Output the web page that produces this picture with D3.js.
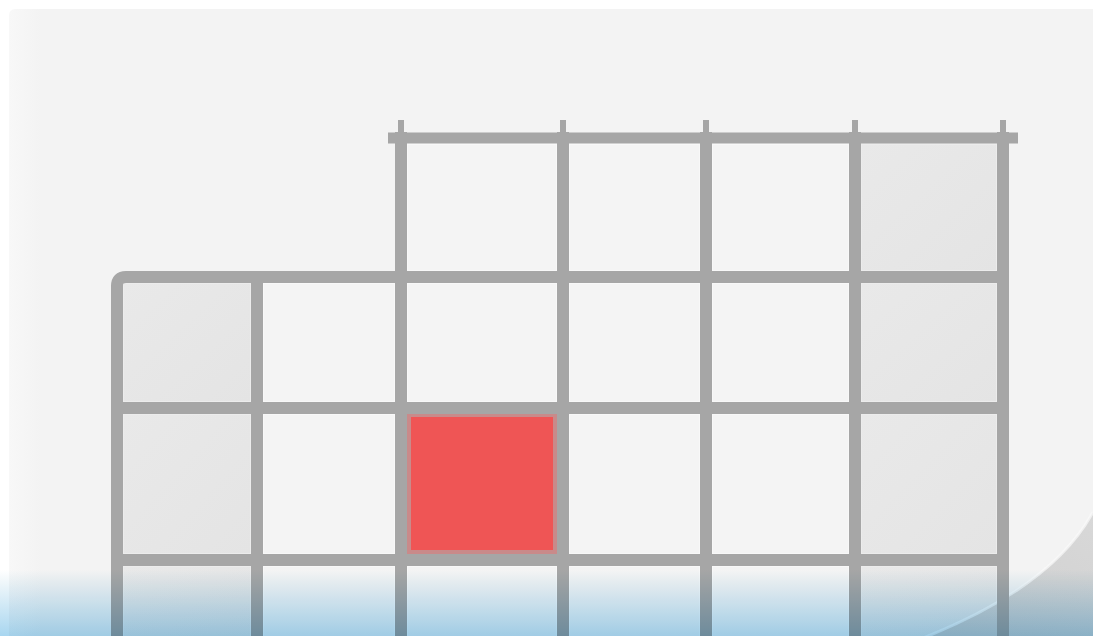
<!DOCTYPE html>
<html>
<head>
<meta charset="utf-8">
<script src="https://cdn.jsdelivr.net/npm/d3@7"></script>
<style>
  html, body { margin: 0; padding: 0; background: #ffffff; }
  svg { display: block; }
</style>
</head>
<body>
<svg></svg>
<script>
// calendar data
var days = ["Sun", "Mon", "Tue", "Wed", "Thu", "Fri"];
var weekend = [true, false, false, false, false, true];
var weeks = [1, 2, 3, 4];
var firstDayCol = 2;          // first week starts on this column
var highlight = {week: 3, day: "Tue"};

var W = 1093, H = 636;

// hand-drawn grid: column / row edges are slightly uneven
var xEdge = d3.scaleLinear().domain(d3.range(7)).range([117, 257, 401, 563, 706, 855, 1003]);
var yEdge = d3.scaleLinear().domain(d3.range(5)).range([138, 277, 408, 560, 705]);

var cells = [];
weeks.forEach(function(w, r) {
  days.forEach(function(d, c) {
    if (r === 0 && c < firstDayCol) return;
    cells.push({week: w, day: d, r: r, c: c, weekend: weekend[c]});
  });
});

var svg = d3.select("svg").attr("width", W).attr("height", H);
var defs = svg.append("defs");

var lg = defs.append("linearGradient").attr("id", "panelLeft")
    .attr("x1", 0).attr("x2", 1).attr("y1", 0).attr("y2", 0);
lg.append("stop").attr("offset", 0).attr("stop-color", "#f8f8f8");
lg.append("stop").attr("offset", 0.03).attr("stop-color", "#f3f3f3");
lg.append("stop").attr("offset", 1).attr("stop-color", "#f3f3f3");

var blue = defs.append("linearGradient").attr("id", "blueFade")
    .attr("gradientUnits", "userSpaceOnUse")
    .attr("x1", 0).attr("x2", 0).attr("y1", 570).attr("y2", H);
blue.append("stop").attr("offset", 0).attr("stop-color", "#ffffff");
blue.append("stop").attr("offset", 0.2).attr("stop-color", "#eef6fa");
blue.append("stop").attr("offset", 1).attr("stop-color", "#a8d6f0");

var curlG = defs.append("linearGradient").attr("id", "curl")
    .attr("x1", 0).attr("x2", 1).attr("y1", 1).attr("y2", 0);
curlG.append("stop").attr("offset", 0).attr("stop-color", "#cdcdcd");
curlG.append("stop").attr("offset", 1).attr("stop-color", "#d8d8d8");

var wkG = defs.append("linearGradient").attr("id", "wk")
    .attr("x1", 0).attr("x2", 1).attr("y1", 0).attr("y2", 1);
wkG.append("stop").attr("offset", 0).attr("stop-color", "#e9e9e9");
wkG.append("stop").attr("offset", 1).attr("stop-color", "#e4e4e4");

// page
svg.append("rect").attr("x", 9).attr("y", 9).attr("width", W).attr("height", H)
    .attr("rx", 6).attr("fill", "url(#panelLeft)");

// cell fills
var lw = 12, inset = lw / 2;
svg.append("g").selectAll("rect.cell")
  .data(cells)
  .enter().append("rect")
    .attr("class", "cell")
    .attr("x", function(d) { return xEdge(d.c) + inset; })
    .attr("y", function(d) { return yEdge(d.r) + inset; })
    .attr("width", function(d) { return xEdge(d.c + 1) - xEdge(d.c) - lw; })
    .attr("height", function(d) { return yEdge(d.r + 1) - yEdge(d.r) - lw; })
    .attr("fill", function(d) { return d.weekend ? "url(#wk)" : "#f4f4f4"; })
    .attr("stroke", function(d) { return d.weekend ? "#ececec" : "#f8f8f8"; })
    .attr("stroke-width", 2);

// highlighted day
var hl = cells.filter(function(d) { return d.week === highlight.week && d.day === highlight.day; });
svg.append("g").selectAll("rect.hl")
  .data(hl)
  .enter().append("rect")
    .attr("class", "hl")
    .attr("x", function(d) { return xEdge(d.c) + inset + 2; })
    .attr("y", function(d) { return yEdge(d.r) + inset + 1; })
    .attr("width", function(d) { return xEdge(d.c + 1) - xEdge(d.c) - lw - 4; })
    .attr("height", function(d) { return yEdge(d.r + 1) - yEdge(d.r) - lw - 3; })
    .attr("fill", "#ef5555")
    .attr("stroke", "#c98a8a")
    .attr("stroke-width", 4);

// page curl at the bottom-right corner
svg.append("path")
    .attr("d", "M" + W + ",512 Q1052,588 918," + (H + 4) + " L" + W + "," + (H + 4) + "Z")
    .attr("fill", "url(#curl)");
svg.append("path")
    .attr("d", "M" + W + ",512 Q1052,588 918," + (H + 4))
    .attr("fill", "none").attr("stroke", "#fafafa").attr("stroke-width", 3).attr("opacity", 0.7);

// grid lines
var lineCol = "#a6a6a6";
var g = svg.append("g").attr("stroke", lineCol).attr("fill", "none");

// top tick marks above the first week
g.selectAll("line.tick")
  .data(d3.range(firstDayCol, 7))
  .enter().append("line")
    .attr("x1", function(i) { return xEdge(i); }).attr("x2", function(i) { return xEdge(i); })
    .attr("y1", yEdge(0) - 18).attr("y2", yEdge(0))
    .attr("stroke-width", 6);

// vertical lines (the first one is drawn with the rounded corner)
g.selectAll("line.v")
  .data(d3.range(1, 7))
  .enter().append("line")
    .attr("x1", function(i) { return xEdge(i); }).attr("x2", function(i) { return xEdge(i); })
    .attr("y1", function(i) { return i < firstDayCol ? yEdge(1) : yEdge(0) - 6; })
    .attr("y2", H + 10)
    .attr("stroke-width", lw);

// horizontal lines
g.selectAll("line.h")
  .data(d3.range(0, 4).filter(function(i) { return i !== 1; }))
  .enter().append("line")
    .attr("x1", function(i) { return i === 0 ? xEdge(firstDayCol) - 13 : xEdge(0); })
    .attr("x2", function(i) { return i === 0 ? xEdge(6) + 15 : xEdge(6); })
    .attr("y1", function(i) { return yEdge(i); }).attr("y2", function(i) { return yEdge(i); })
    .attr("stroke-width", function(i) { return i === 0 ? 11 : 12; });

// left edge + top of second week, with a rounded corner
var r = 9;
g.append("path")
    .attr("d", "M" + xEdge(0) + "," + (H + 10)
      + " L" + xEdge(0) + "," + (yEdge(1) + r)
      + " Q" + xEdge(0) + "," + yEdge(1) + " " + (xEdge(0) + r) + "," + yEdge(1)
      + " L" + xEdge(6) + "," + yEdge(1))
    .attr("stroke-width", lw)
    .attr("stroke-linejoin", "round");

// blue fade at the bottom
svg.append("rect")
    .attr("x", 0).attr("y", 560).attr("width", W).attr("height", H - 560)
    .attr("fill", "url(#blueFade)")
    .style("mix-blend-mode", "multiply");
</script>
</body>
</html>
